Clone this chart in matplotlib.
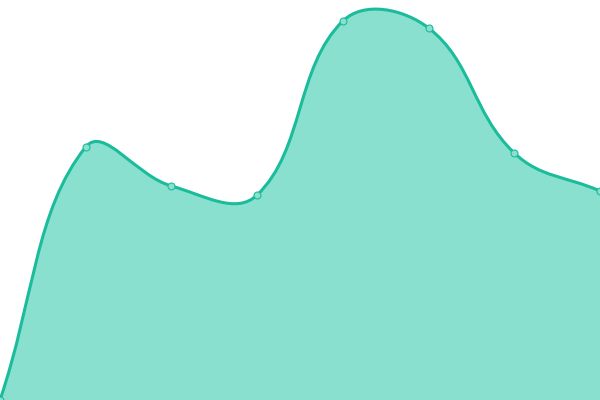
import numpy as np
import matplotlib
matplotlib.use("Agg")
import matplotlib.pyplot as plt
from matplotlib.path import Path
from matplotlib.patches import PathPatch

# data
labels = ["1", "2", "3", "4", "5", "6", "7", "8"]
values = [0, 253, 214, 205, 379, 372, 247, 209]

line_color = "#1abc9c"
fill_color = "#8ae0cf"

fig = plt.figure(figsize=(6, 4), dpi=100)
ax = fig.add_axes([0, 0, 1, 1])
ax.set_xlim(0, len(values) - 1)
ax.set_ylim(0, 400)
ax.axis("off")

xs = np.arange(len(values))
pts = ax.transData.transform(np.column_stack([xs, values]))

# spline control points (tension 0.4), worked out in pixel space
tension = 0.4
n = len(pts)
cp_prev = np.zeros_like(pts)
cp_next = np.zeros_like(pts)
for i in range(n):
    prev = pts[i - 1] if i > 0 else pts[i]
    nxt = pts[i + 1] if i < n - 1 else pts[i]
    d01 = np.hypot(*(pts[i] - prev))
    d12 = np.hypot(*(nxt - pts[i]))
    tot = d01 + d12
    s01 = d01 / tot if tot else 0
    s12 = d12 / tot if tot else 0
    cp_prev[i] = pts[i] - tension * s01 * (nxt - prev)
    cp_next[i] = pts[i] + tension * s12 * (nxt - prev)

verts = [pts[0]]
codes = [Path.MOVETO]
for i in range(n - 1):
    verts += [cp_next[i], cp_prev[i + 1], pts[i + 1]]
    codes += [Path.CURVE4] * 3
inv = ax.transData.inverted()
verts = inv.transform(np.array(verts))

line_path = Path(verts, codes)
fill_verts = np.vstack([verts, [[xs[-1], 0], [xs[0], 0], verts[0]]])
fill_codes = codes + [Path.LINETO, Path.LINETO, Path.CLOSEPOLY]
fill_path = Path(fill_verts, fill_codes)

ax.add_patch(PathPatch(fill_path, facecolor=fill_color, edgecolor="none", zorder=1))
ax.add_patch(PathPatch(line_path, facecolor="none", edgecolor=line_color, lw=2.2, zorder=2))
ax.plot(xs, values, "o", ms=5, mfc=fill_color, mec=line_color, mew=0.8, zorder=3, clip_on=False)

fig.savefig("out.png", dpi=100)
